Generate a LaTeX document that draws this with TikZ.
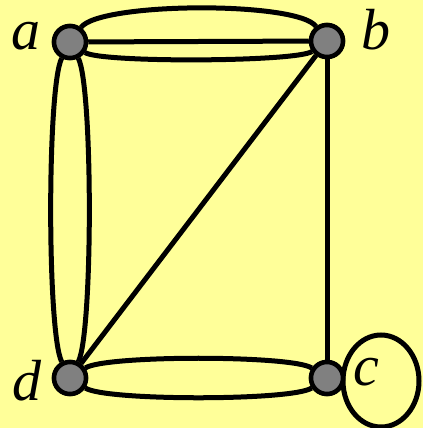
\documentclass[tikz,border=0pt]{standalone}
\usepackage{fontspec}
\setmainfont{Liberation Serif}
\definecolor{bg}{RGB}{255,255,153}
\definecolor{vfill}{RGB}{128,128,128}
\begin{document}
\begin{tikzpicture}[x=1pt,y=-1pt,
  vtx/.style={circle,draw=black,fill=vfill,line width=4.5pt,minimum size=32pt,inner sep=0pt},
  lbl/.style={inner sep=0pt,font=\fontsize{58}{60}\selectfont\itshape},
  edge/.style={line width=5pt,draw=black}]
\fill[bg] (0,0) rectangle (423,428);
\useasboundingbox (0,0) rectangle (423,428);
\node[vtx] (a) at (70,42) {};
\node[vtx] (b) at (327,41) {};
\node[vtx] (c) at (327,378) {};
\node[vtx] (d) at (70,378) {};
% loop at c
\draw[edge] (381,381) ellipse [x radius=38, y radius=46];
\node[lbl] (la) at (26,36) {a};
\node[lbl] (lb) at (376,30) {b};
\node[lbl] (lc) at (366,372) {c};
\node[lbl] (ld) at (27,381) {d};
% edges
\path[edge] (a) .. controls +(30,-40) and +(-30,-40) .. (b);
\path[edge] (a) -- (b);
\path[edge] (a) .. controls +(30,21) and +(-30,21) .. (b);
\path[edge] (a) .. controls +(-23,45) and +(-23,-45) .. (d);
\path[edge] (a) .. controls +(23,45) and +(23,-45) .. (d);
\path[edge] (d) .. controls +(35,-23) and +(-35,-23) .. (c);
\path[edge] (d) .. controls +(35,23) and +(-35,23) .. (c);
\path[edge] (d) -- (b);
\path[edge] (b) -- (c);
\node[vtx] at (a) {};
\node[vtx] at (b) {};
\node[vtx] at (c) {};
\node[vtx] at (d) {};
\end{tikzpicture}
\end{document}
